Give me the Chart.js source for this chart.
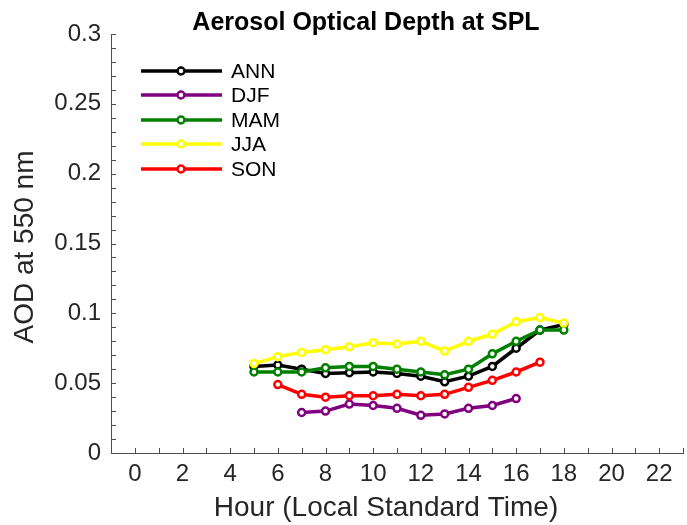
<!DOCTYPE html>
<html>
<head>
<meta charset="utf-8">
<script src="https://cdn.jsdelivr.net/npm/chart.js@4"></script>
<style>
  html, body { margin: 0; padding: 0; background: #fff; overflow: hidden; }
  #wrap { width: 690px; height: 525px; }
</style>
</head>
<body>
<div id="wrap"><canvas id="myChart" width="690" height="525"></canvas></div>
<script>
// data
const seriesNames = ['ANN', 'DJF', 'MAM', 'JJA', 'SON'];
const seriesColors = ['#000000', '#800080', '#008000', '#ffff00', '#ff0000'];

const hoursANN = [5, 6, 7, 8, 9, 10, 11, 12, 13, 14, 15, 16, 17, 18];
const aodANN = [0.062, 0.063, 0.060, 0.057, 0.0575, 0.058, 0.057, 0.055, 0.051, 0.055, 0.062, 0.075, 0.088, 0.092];

const hoursDJF = [7, 8, 9, 10, 11, 12, 13, 14, 15, 16];
const aodDJF = [0.029, 0.030, 0.035, 0.034, 0.032, 0.027, 0.028, 0.032, 0.034, 0.039];

const hoursMAM = [5, 6, 7, 8, 9, 10, 11, 12, 13, 14, 15, 16, 17, 18];
const aodMAM = [0.058, 0.058, 0.058, 0.061, 0.062, 0.062, 0.060, 0.058, 0.056, 0.060, 0.071, 0.080, 0.088, 0.088];

const hoursJJA = [5, 6, 7, 8, 9, 10, 11, 12, 13, 14, 15, 16, 17, 18];
const aodJJA = [0.064, 0.069, 0.072, 0.074, 0.076, 0.079, 0.078, 0.080, 0.073, 0.080, 0.085, 0.094, 0.097, 0.093];

const hoursSON = [6, 7, 8, 9, 10, 11, 12, 13, 14, 15, 16, 17];
const aodSON = [0.049, 0.042, 0.040, 0.041, 0.041, 0.042, 0.041, 0.042, 0.047, 0.052, 0.058, 0.065];

const xTickLabels = ['0', '2', '4', '6', '8', '10', '12', '14', '16', '18', '20', '22'];
const yTickLabels = ['0', '0.05', '0.1', '0.15', '0.2', '0.25', '0.3'];

const allHours = [hoursANN, hoursDJF, hoursMAM, hoursJJA, hoursSON];
const allValues = [aodANN, aodDJF, aodMAM, aodJJA, aodSON];

const FONT = "'Liberation Sans', Arial, sans-serif";
const AXIS = '#4d4d4d';
const TEXT = '#262626';

const datasets = seriesNames.map(function (name, i) {
  return {
    label: name,
    data: allHours[i].map(function (h, j) { return { x: h, y: allValues[i][j] }; }),
    borderColor: seriesColors[i],
    backgroundColor: '#ffffff',
    borderWidth: 3.5,
    pointRadius: 3.5,
    pointBorderWidth: 2.5,
    pointBackgroundColor: '#ffffff',
    pointBorderColor: seriesColors[i],
    tension: 0,
    order: seriesNames.length - i  // later series on top
  };
});

// inward tick marks, titles and the legend box
const matlabLook = {
  id: 'matlabLook',
  afterDraw: function (chart) {
    const ctx = chart.ctx;
    const area = chart.chartArea;
    const xs = chart.scales.x;
    const ys = chart.scales.y;
    ctx.save();
    ctx.strokeStyle = AXIS;
    ctx.lineWidth = 1;
    ctx.beginPath();
    xs.ticks.forEach(function (t) {
      const px = Math.round(xs.getPixelForValue(t.value)) + 0.5;
      ctx.moveTo(px, area.bottom);
      ctx.lineTo(px, area.bottom - 5);
    });
    ys.ticks.forEach(function (t) {
      const py = Math.round(ys.getPixelForValue(t.value)) + 0.5;
      ctx.moveTo(area.left, py);
      ctx.lineTo(area.left + 5, py);
    });
    ctx.stroke();

    // chart title
    ctx.fillStyle = '#000';
    ctx.textAlign = 'center';
    ctx.textBaseline = 'alphabetic';
    ctx.font = 'bold 25px ' + FONT;
    ctx.fillText('Aerosol Optical Depth at SPL', 366, 30);

    // axis titles
    ctx.fillStyle = TEXT;
    ctx.font = '28px ' + FONT;
    ctx.fillText('Hour (Local Standard Time)', 386, 516);
    ctx.save();
    ctx.translate(33, 247);
    ctx.rotate(-Math.PI / 2);
    ctx.fillText('AOD at 550 nm', 0, 0);
    ctx.restore();

    // legend
    const rowY = [71, 95, 120, 144, 169];
    ctx.font = '21px ' + FONT;
    ctx.textAlign = 'left';
    ctx.textBaseline = 'middle';
    chart.data.datasets.forEach(function (ds, i) {
      const y = rowY[i];
      ctx.strokeStyle = ds.borderColor;
      ctx.lineWidth = 3.5;
      ctx.beginPath();
      ctx.moveTo(141, y);
      ctx.lineTo(222, y);
      ctx.stroke();
      ctx.beginPath();
      ctx.arc(181, y, 3.5, 0, Math.PI * 2);
      ctx.fillStyle = '#fff';
      ctx.fill();
      ctx.lineWidth = 2.5;
      ctx.stroke();
      ctx.fillStyle = '#000';
      ctx.fillText(ds.label, 231, y + 1);
    });
    ctx.restore();
  }
};

const ctx = document.getElementById('myChart').getContext('2d');
const myChart = new Chart(ctx, {
  type: 'line',
  data: { datasets: datasets },
  options: {
    responsive: false,
    animation: false,
    layout: { padding: { left: 0, right: 1, top: 34, bottom: 0 } },
    plugins: {
      legend: { display: false },
      title: { display: false },
      tooltip: { enabled: false }
    },
    scales: {
      x: {
        type: 'linear',
        min: -1,
        max: 23,
        grid: { display: true, drawOnChartArea: false, drawTicks: false },
        border: { display: true, color: AXIS, width: 1 },
        afterFit: function (scale) { scale.height = 525 - 453; },
        ticks: {
          stepSize: 1,
          autoSkip: false,
          maxRotation: 0,
          padding: 7,
          color: TEXT,
          font: { family: FONT, size: 24 },
          callback: function (v) {
            const s = String(Math.round(v));
            return xTickLabels.indexOf(s) >= 0 && Math.round(v) % 2 === 0 ? s : '';
          }
        }
      },
      y: {
        min: 0,
        max: 0.3,
        grid: { display: true, drawOnChartArea: false, drawTicks: false },
        border: { display: true, color: AXIS, width: 1 },
        afterFit: function (scale) { scale.width = 111; },
        ticks: {
          stepSize: 0.01,
          autoSkip: false,
          padding: 10,
          color: TEXT,
          font: { family: FONT, size: 24 },
          callback: function (v) {
            const s = String(Number(v.toFixed(2)));
            return yTickLabels.indexOf(s) >= 0 && Math.round(v * 100) % 5 === 0 ? s : '';
          }
        }
      }
    }
  },
  plugins: [matlabLook]
});
</script>
</body>
</html>
